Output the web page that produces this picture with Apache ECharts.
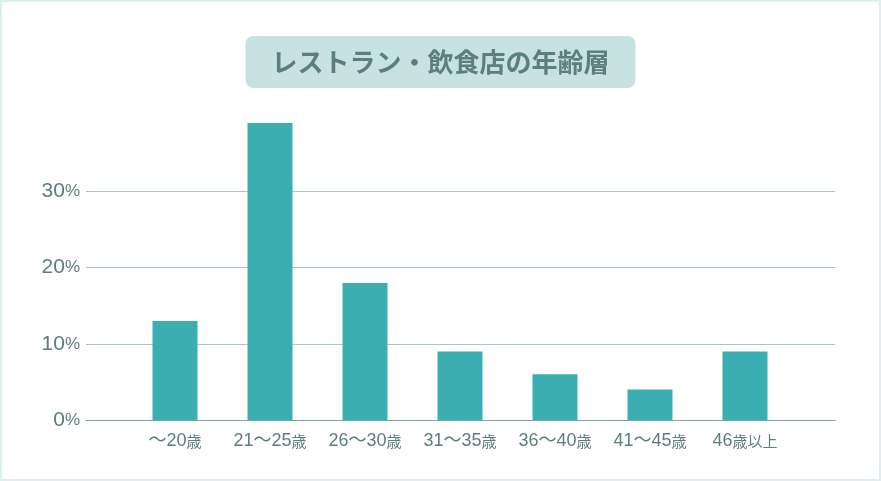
<!DOCTYPE html>
<html>
<head>
<meta charset="utf-8">
<script src="https://cdn.jsdelivr.net/npm/echarts@6/dist/echarts.min.js"></script>
<style>
html,body{margin:0;padding:0;background:#fff;}
#chart{position:absolute;left:0;top:0;width:881px;height:481px;}
#frame{position:absolute;left:0;top:0;width:881px;height:481px;box-sizing:border-box;border:2px solid #deeded;pointer-events:none;}
</style>
</head>
<body>
<div id="chart"></div>
<div id="frame"></div>
<script>
const titleText = 'レストラン・飲食店の年齢層';
const categories = ['〜20歳', '21〜25歳', '26〜30歳', '31〜35歳', '36〜40歳', '41〜45歳', '46歳以上'];
const shares = [13, 39, 18, 9, 6, 4, 9];
const yTickMax = 30;   // highest labelled tick
const yMax = 39;       // top of plotting area (value)
const yStep = 10;

const textColor = '#5b7f7d';
const fontFam = "'Liberation Sans', Arial, 'Noto Sans CJK JP', sans-serif";

function catLabel(v) {
  return v.split(/([歳以上]+)/).filter(s => s).map(s =>
    /[歳以上]/.test(s) ? '{k|' + s + '}' : '{n|' + s + '}').join('');
}

// plotting area geometry
const plotLeft = 86, plotRight = 835, baseY = 420, topY = 123, chartW = 881, chartH = 481;
const pxPerUnit = (baseY - topY) / yMax;
const tickTopY = baseY - yTickMax * pxPerUnit;
const band = 95, nCat = categories.length;
const catLeft = 175 - band / 2, catRight = catLeft + band * nCat;

const chart = echarts.init(document.getElementById('chart'), null, {renderer: 'canvas'});
chart.setOption({
  backgroundColor: '#ffffff',
  animation: false,
  title: {
    text: titleText,
    left: 'center',
    top: 36,
    padding: [13, 26],
    backgroundColor: '#c8e1e1',
    borderRadius: 8,
    textStyle: {
      color: textColor,
      fontSize: 26,
      fontWeight: 'bold',
      fontFamily: "'Noto Sans CJK JP', sans-serif"
    }
  },
  grid: [
    {left: plotLeft, right: chartW - plotRight, top: tickTopY, bottom: chartH - baseY},
    {left: catLeft, right: chartW - catRight, top: topY, bottom: chartH - baseY}
  ],
  xAxis: [
    {
      gridIndex: 0, type: 'value', min: 0, max: 1,
      axisLine: {show: true, lineStyle: {color: '#7ba5a3', width: 1}},
      axisTick: {show: false}, axisLabel: {show: false}, splitLine: {show: false}
    },
    {
      gridIndex: 1, type: 'category', data: categories,
      axisLine: {show: false}, axisTick: {show: false},
      axisLabel: {
        margin: 12,
        interval: 0,
        formatter: catLabel,
        rich: {
          n: {fontSize: 18, color: textColor, fontFamily: fontFam},
          k: {fontSize: 15, color: textColor, fontFamily: "'Noto Sans CJK JP', sans-serif"}
        }
      }
    }
  ],
  yAxis: [
    {
      gridIndex: 0, type: 'value', min: 0, max: yTickMax, interval: yStep,
      axisLine: {show: false}, axisTick: {show: false},
      splitLine: {show: true, lineStyle: {color: '#a6c7c5', width: 1}},
      axisLabel: {
        margin: 6,
        formatter: v => '{n|' + v + '}{p|%}',
        rich: {
          n: {fontSize: 21, color: textColor, fontFamily: fontFam},
          p: {fontSize: 17, color: textColor, fontFamily: fontFam}
        }
      }
    },
    {
      gridIndex: 1, type: 'value', min: 0, max: yMax, interval: yStep, show: false,
      splitLine: {show: false}
    }
  ],
  series: [{
    type: 'bar',
    xAxisIndex: 1,
    yAxisIndex: 1,
    data: shares,
    barWidth: 45,
    itemStyle: {color: '#3aaeb0'}
  }]
});
</script>
</body>
</html>
